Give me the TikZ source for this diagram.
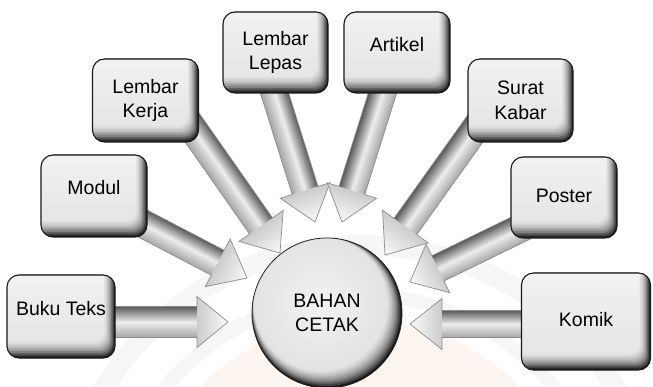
\documentclass[tikz,border=0pt]{standalone}
\usepackage{fontspec}
\setmainfont{Liberation Sans}
\usetikzlibrary{calc}

\pgfdeclarelayer{paper}
\pgfdeclarelayer{back}
\pgfsetlayers{paper,back,main}

\definecolor{peach}{RGB}{253,245,240}
\definecolor{ringgray}{RGB}{246,246,246}
\newcommand\cardfont{\fontsize{19.5}{24.5}\selectfont}
% lift a one-line label without changing its box
\newcommand\lift[2]{\raisebox{#1}[\height][\depth]{#2}}

\tikzset{
  card/.style={rounded corners=12pt, draw=black!90, line width=1.1pt,
    minimum width=106pt, minimum height=82pt, inner sep=0pt, align=center,
    font=\cardfont,
    path picture={
      \fill[white!12!black] (path picture bounding box.south west)
        rectangle (path picture bounding box.north east);
      \foreach \i/\c in {1/25,2/38,3/50,4/60,5/68,6/75,7/81,8/86,9/89}{
        \fill[white!\c!black, rounded corners=11pt]
          ([shift={(-20pt,20pt)}]path picture bounding box.north west)
          rectangle ([shift={({-1.1pt*\i},{1.7pt*\i})}]path picture bounding box.south east);
      }
      \shade[top color=white!96!black, bottom color=white!90!black, rounded corners=10pt]
        ([shift={(-20pt,20pt)}]path picture bounding box.north west)
        rectangle ([shift={(-11pt,16pt)}]path picture bounding box.south east);
    }},
  hub/.style={circle, draw=black!85, line width=0.8pt, minimum size=150pt,
    inner sep=0pt, align=center, font=\cardfont,
    path picture={
      \fill[white!10!black] (path picture bounding box.south west)
        rectangle (path picture bounding box.north east);
      \foreach \i/\c in {1/25,2/38,3/50,4/60,5/68,6/75,7/81,8/86,9/89}{
        \fill[white!\c!black]
          ([shift={({-0.7pt*\i},{1.0pt*\i})}]path picture bounding box.center)
          circle ({75pt-0.9pt*\i});
      }
      \shade[inner color=white!95!black, outer color=white!89!black]
          ([shift={(-7pt,10pt)}]path picture bounding box.center) circle (66pt);
    }},
  shaftL/.style={top color=white!35!black, bottom color=white!65!black, middle color=white!93!black},
  shaftR/.style={top color=white!65!black, bottom color=white!35!black, middle color=white!93!black},
  headshade/.style={left color=white!80!black, right color=white!98!black},
  arrowrim/.style={draw=white!55!black, line width=0.7pt, line join=miter}
}

% block arrow from #1 to #2: shaft half width #3, head half width #4, head length #5
\newcommand\feedarrow[5]{%
  \path let \p1=($(#2)-(#1)$) in \pgfextra{%
    \pgfmathsetmacro\feedang{atan2(\y1,\x1)}%
    \pgfmathsetmacro\feedlen{veclen(\x1,\y1)}%
    \xdef\feedang{\feedang}\xdef\feedlen{\feedlen pt}%
    \ifdim\x1<0pt \gdef\feedside{shaftR}\else\gdef\feedside{shaftL}\fi};
  \begin{scope}[transform canvas={shift={(#1)}, rotate=\feedang}]
    \shade[\feedside] (0pt,-#3) rectangle ({\feedlen-#5+0.6pt},#3);
    \shade[headshade] ({\feedlen-#5},-#4) -- (\feedlen,0pt) -- ({\feedlen-#5},#4) -- cycle;
    \draw[arrowrim] (0pt,#3) -- ({\feedlen-#5},#3) -- ({\feedlen-#5},#4) -- (\feedlen,0pt)
      -- ({\feedlen-#5},-#4) -- ({\feedlen-#5},-#3) -- (0pt,-#3);
  \end{scope}}

\begin{document}
\begin{tikzpicture}[x=1pt, y=-1pt]
\useasboundingbox (0,0) rectangle (653,387);

% faint paper pattern
\begin{pgfonlayer}{paper}
  \clip (0,0) rectangle (653,387);
  \fill[white] (0,0) rectangle (653,387);
  \fill[peach] (360,545) circle (225);
  \draw[ringgray, line width=20pt] (360,545) circle (300);
  \draw[ringgray, line width=14pt] (360,545) circle (250);
\end{pgfonlayer}

% sources
\node[card, minimum width=108pt, minimum height=83pt] (buku) at (61,316.5) {\lift{8pt}{Buku Teks}};
\node[card] (modul) at (94,196) {\lift{8pt}{Modul}};
\node[card, minimum height=83pt] (lk) at (145.5,100.5) {Lembar\\Kerja};
\node[card, minimum width=105pt, minimum height=81pt] (ll) at (275.5,52.5) {Lembar\\Lepas};
\node[card, minimum height=81pt] (artikel) at (397,52.5) {\lift{8pt}{Artikel}};
\node[card, minimum width=105pt, minimum height=83pt] (sk) at (520.5,100.5) {Surat\\Kabar};
\node[card, minimum height=81pt] (poster) at (564,197.5) {\lift{2pt}{Poster}};
\node[card, minimum width=129pt, minimum height=97pt] (komik) at (586,321.5) {\lift{2pt}{Komik}};

% centre
\node[hub] (hub) at (327,313) {BAHAN\\CETAK};

% arrow ends
\coordinate (sBuku) at ($(buku.center)+(44,5.5)$);
\coordinate (sModul) at ($(modul.center)+(38,22)$);
\coordinate (sLk) at ($(lk.center)+(38.5,15.5)$);
\coordinate (sLl) at ($(ll.center)+(-3.5,32.5)$);
\coordinate (sArt) at ($(artikel.center)+(-12,32.5)$);
\coordinate (sSk) at ($(sk.center)+(-35.5,14.5)$);
\coordinate (sPoster) at ($(poster.center)+(-39,28.5)$);
\coordinate (sKomik) at ($(komik.center)+(-56,2.5)$);

\coordinate (tBuku) at ($(hub.center)+(-99,9)$);
\coordinate (tModul) at ($(hub.center)+(-80,-35)$);
\coordinate (tLk) at ($(hub.center)+(-47,-60)$);
\coordinate (tLl) at ($(hub.center)+(-12,-91)$);
\coordinate (tArt) at ($(hub.center)+(15,-91)$);
\coordinate (tSk) at ($(hub.center)+(58,-58)$);
\coordinate (tPoster) at ($(hub.center)+(83,-31)$);
\coordinate (tKomik) at ($(hub.center)+(83,11)$);

\begin{pgfonlayer}{back}
  \feedarrow{sBuku}{tBuku}{15.5pt}{25.5pt}{31pt}
  \feedarrow{sModul}{tModul}{14pt}{27pt}{33pt}
  \feedarrow{sLk}{tLk}{14pt}{27pt}{33pt}
  \feedarrow{sLl}{tLl}{13.5pt}{26pt}{33pt}
  \feedarrow{sArt}{tArt}{13.5pt}{26pt}{33pt}
  \feedarrow{sSk}{tSk}{14pt}{28pt}{35pt}
  \feedarrow{sPoster}{tPoster}{14pt}{27pt}{31pt}
  \feedarrow{sKomik}{tKomik}{13.5pt}{25.5pt}{32pt}
\end{pgfonlayer}
\end{tikzpicture}
\end{document}
